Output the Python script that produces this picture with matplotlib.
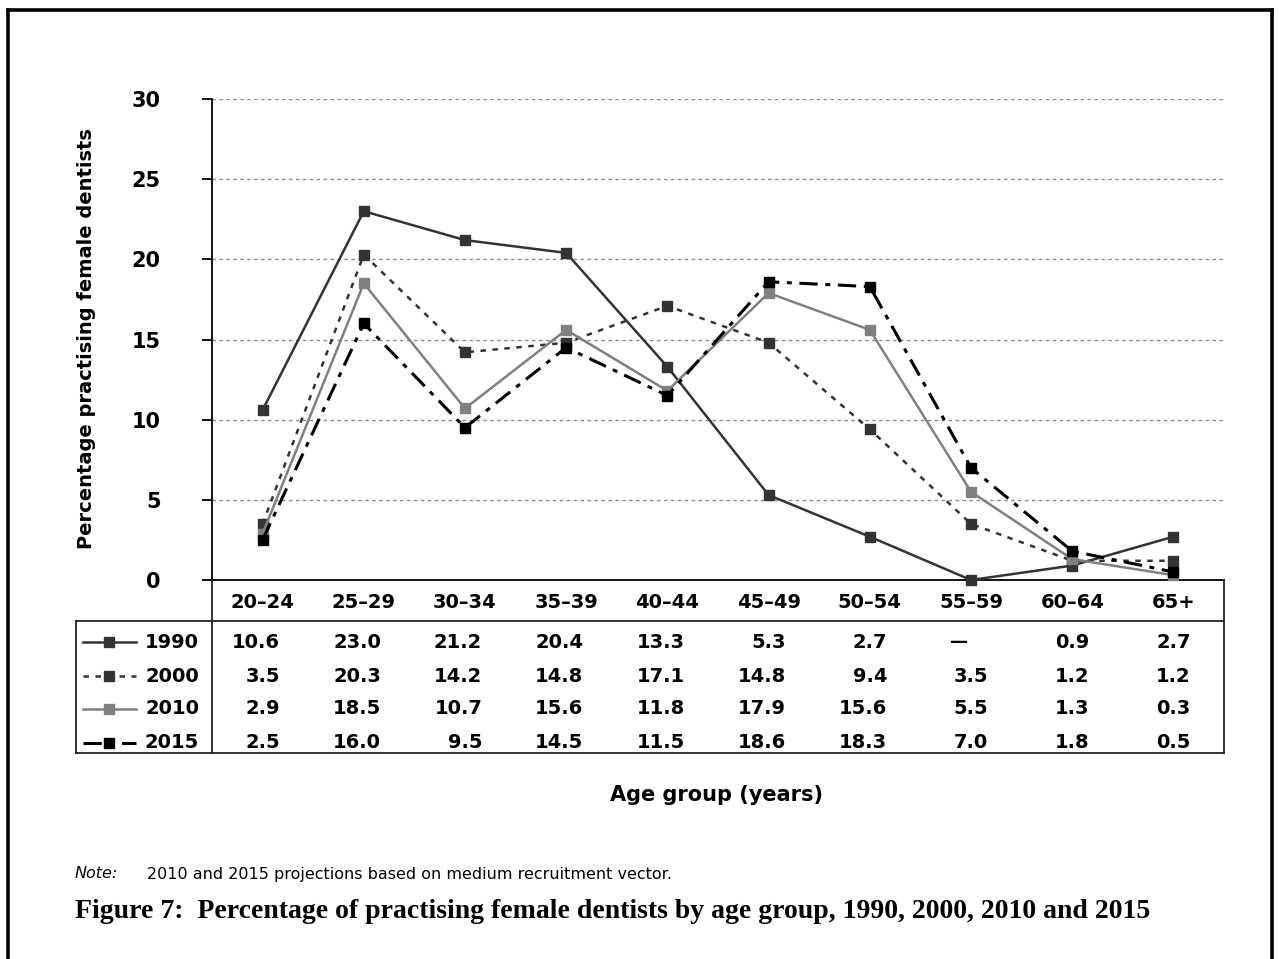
import matplotlib
matplotlib.use("Agg")
import matplotlib.pyplot as plt
import matplotlib.transforms as mtransforms
from matplotlib.lines import Line2D

# data
age_groups = ["20\u201324", "25\u201329", "30\u201334", "35\u201339", "40\u201344",
              "45\u201349", "50\u201354", "55\u201359", "60\u201364", "65+"]
years = ["1990", "2000", "2010", "2015"]
v1990 = [10.6, 23.0, 21.2, 20.4, 13.3, 5.3, 2.7, 0.0, 0.9, 2.7]
v2000 = [3.5, 20.3, 14.2, 14.8, 17.1, 14.8, 9.4, 3.5, 1.2, 1.2]
v2010 = [2.9, 18.5, 10.7, 15.6, 11.8, 17.9, 15.6, 5.5, 1.3, 0.3]
v2015 = [2.5, 16.0, 9.5, 14.5, 11.5, 18.6, 18.3, 7.0, 1.8, 0.5]
series = [v1990, v2000, v2010, v2015]

styles = [
    dict(color="#333333", lw=1.8, ls="-", ms=6.5),
    dict(color="#333333", lw=1.8, ls=(0, (2.2, 2.6)), ms=6.5),
    dict(color="#808080", lw=1.8, ls="-", ms=6.5),
    dict(color="#000000", lw=2.2, ls=(0, (6, 2.5, 1.6, 2.5)), ms=6.5),
]

W, H = 1279, 959
def fx(p): return p / W
def fy(p): return 1 - p / H

sans = "DejaVu Sans"
fig = plt.figure(figsize=(W / 100, H / 100), dpi=100)
ax = fig.add_axes([fx(212), fy(580), fx(1224) - fx(212), fy(99) - fy(580)])

xs = list(range(len(age_groups)))
for vals, st in zip(series, styles):
    ax.plot(xs, vals, color=st["color"], lw=st["lw"], ls=st["ls"],
            marker="s", ms=st["ms"], mfc=st["color"], mec=st["color"],
            clip_on=False, zorder=3)

ax.set_xlim(-0.5, len(age_groups) - 0.5)
ax.set_ylim(0, 30)
ax.set_yticks([0, 5, 10, 15, 20, 25, 30])
ax.set_yticklabels(["0", "5", "10", "15", "20", "25", "30"],
                   fontfamily=sans, fontweight="bold", fontsize=15)
ax.tick_params(axis="y", length=7, width=1.3, pad=30)
ax.set_xticks(xs)
ax.set_xticklabels(age_groups, fontfamily=sans, fontweight="bold", fontsize=14)
ax.tick_params(axis="x", length=0, pad=9)
for s in ["top", "right"]:
    ax.spines[s].set_visible(False)
ax.spines["left"].set_linewidth(1.3)
ax.spines["bottom"].set_linewidth(1.3)
for g in [5, 10, 15, 20, 25, 30]:
    ax.axhline(g, color="#8c8c8c", lw=1.0, ls=(0, (2.5, 2.5)), zorder=1)

fig.text(fx(87), fy(339), "Percentage practising female dentists", rotation=90,
         ha="center", va="center", fontfamily=sans, fontweight="bold", fontsize=14)

# data table below the plot
def fline(x0, y0, x1, y1, lw=1.3, color="#222222"):
    fig.add_artist(Line2D([fx(x0), fx(x1)], [fy(y0), fy(y1)], lw=lw, color=color,
                          transform=fig.transFigure))

fline(212, 580, 212, 753)
fline(1224, 580, 1224, 753)
fline(76, 621, 1224, 621)
fline(76, 753, 1224, 753)
fline(76, 621, 76, 753)

blend = mtransforms.blended_transform_factory(ax.transData, fig.transFigure)
row_y = [642, 676, 709, 743]
for yr, vals, st, ry in zip(years, series, styles, row_y):
    lg = Line2D([fx(83), fx(109), fx(136)], [fy(ry)] * 3, color=st["color"],
                lw=st["lw"], ls=st["ls"], marker="s", ms=st["ms"], markevery=[1],
                mfc=st["color"], mec=st["color"], transform=fig.transFigure)
    fig.add_artist(lg)
    fig.text(fx(199), fy(ry), yr, ha="right", va="center", fontfamily=sans,
             fontweight="bold", fontsize=14)
    for i, v in enumerate(vals):
        if v == 0:
            ax.text(i - 0.12, fy(ry), "\u2014", transform=blend, ha="center", va="center",
                    fontfamily=sans, fontweight="bold", fontsize=13, clip_on=False)
        else:
            ax.text(i + 0.17, fy(ry), f"{v:.1f}", transform=blend, ha="right", va="center",
                    fontfamily=sans, fontweight="bold", fontsize=14, clip_on=False)

fig.text(fx(717), fy(795), "Age group (years)", ha="center", va="center",
         fontfamily=sans, fontweight="bold", fontsize=15)

fig.text(fx(75), fy(874), "Note:", ha="left", va="center", fontfamily=sans,
         fontstyle="italic", fontsize=11.5)
fig.text(fx(147), fy(874), "2010 and 2015 projections based on medium recruitment vector.",
         ha="left", va="center", fontfamily=sans, fontsize=11.5)
fig.text(fx(75), fy(911),
         "Figure 7:  Percentage of practising female dentists by age group, 1990, 2000, 2010 and 2015",
         ha="left", va="center", fontfamily="Liberation Serif", fontweight="bold", fontsize=20)

# outer frame
for seg in [(8, 10, 1272, 10), (8, 10, 8, 959), (1272, 10, 1272, 959)]:
    fline(*seg, lw=2.6, color="black")

fig.savefig("out.png", dpi=100)
